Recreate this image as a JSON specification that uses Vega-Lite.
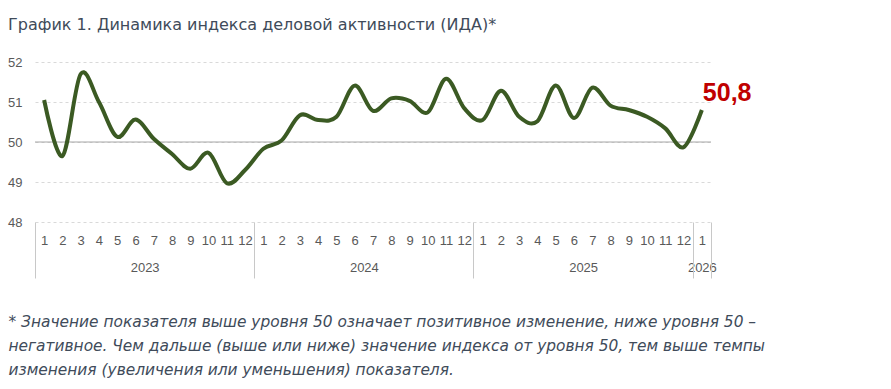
{
  "$schema": "https://vega.github.io/schema/vega-lite/v6.json",
  "width": 676,
  "height": 160,
  "autosize": {"type": "none"},
  "padding": {"left": 35, "top": 62, "right": 180, "bottom": 167},
  "background": "white",
  "title": {
    "text": "График 1. Динамика индекса деловой активности (ИДА)*",
    "anchor": "start",
    "frame": "group",
    "dx": -27,
    "offset": 23,
    "font": "DejaVu Sans",
    "fontSize": 16,
    "fontWeight": "normal",
    "color": "#404b5a"
  },
  "data": {
    "values": [
      {"i": 0, "year": 2023, "month": 1, "v": 51.05},
      {"i": 1, "year": 2023, "month": 2, "v": 49.65},
      {"i": 2, "year": 2023, "month": 3, "v": 51.7},
      {"i": 3, "year": 2023, "month": 4, "v": 51.0},
      {"i": 4, "year": 2023, "month": 5, "v": 50.13},
      {"i": 5, "year": 2023, "month": 6, "v": 50.56},
      {"i": 6, "year": 2023, "month": 7, "v": 50.08},
      {"i": 7, "year": 2023, "month": 8, "v": 49.7},
      {"i": 8, "year": 2023, "month": 9, "v": 49.33},
      {"i": 9, "year": 2023, "month": 10, "v": 49.73},
      {"i": 10, "year": 2023, "month": 11, "v": 48.97},
      {"i": 11, "year": 2023, "month": 12, "v": 49.3},
      {"i": 12, "year": 2024, "month": 1, "v": 49.83},
      {"i": 13, "year": 2024, "month": 2, "v": 50.04},
      {"i": 14, "year": 2024, "month": 3, "v": 50.67},
      {"i": 15, "year": 2024, "month": 4, "v": 50.55},
      {"i": 16, "year": 2024, "month": 5, "v": 50.63},
      {"i": 17, "year": 2024, "month": 6, "v": 51.41},
      {"i": 18, "year": 2024, "month": 7, "v": 50.78},
      {"i": 19, "year": 2024, "month": 8, "v": 51.09},
      {"i": 20, "year": 2024, "month": 9, "v": 51.03},
      {"i": 21, "year": 2024, "month": 10, "v": 50.74},
      {"i": 22, "year": 2024, "month": 11, "v": 51.58},
      {"i": 23, "year": 2024, "month": 12, "v": 50.84},
      {"i": 24, "year": 2025, "month": 1, "v": 50.55},
      {"i": 25, "year": 2025, "month": 2, "v": 51.28},
      {"i": 26, "year": 2025, "month": 3, "v": 50.63},
      {"i": 27, "year": 2025, "month": 4, "v": 50.52},
      {"i": 28, "year": 2025, "month": 5, "v": 51.41},
      {"i": 29, "year": 2025, "month": 6, "v": 50.6},
      {"i": 30, "year": 2025, "month": 7, "v": 51.36},
      {"i": 31, "year": 2025, "month": 8, "v": 50.91},
      {"i": 32, "year": 2025, "month": 9, "v": 50.8},
      {"i": 33, "year": 2025, "month": 10, "v": 50.63},
      {"i": 34, "year": 2025, "month": 11, "v": 50.34},
      {"i": 35, "year": 2025, "month": 12, "v": 49.87},
      {"i": 36, "year": 2026, "month": 1, "v": 50.8}
    ]
  },
  "layer": [
    {
      "data": {"values": [{}]},
      "mark": {"type": "rule", "color": "#a6a6a6", "strokeWidth": 1},
      "encoding": {
        "x": {
          "datum": -0.5,
          "type": "quantitative",
          "scale": {"domain": [-0.5, 36.5], "nice": false, "zero": false},
          "axis": {
            "orient": "bottom",
            "values": [5.5, 17.5, 29.5, 36],
            "labelExpr": "datum.value < 11 ? '2023' : datum.value < 23 ? '2024' : datum.value < 35 ? '2025' : '2026'",
            "ticks": false,
            "tickSize": 0,
            "domain": false,
            "grid": false,
            "labelPadding": 39,
            "labelFont": "Liberation Sans",
            "labelFontSize": 13,
            "labelColor": "#595959",
            "labelFlush": false,
            "labelOverlap": false,
            "labelBound": false,
            "title": [
              "* Значение показателя выше уровня 50 означает позитивное изменение, ниже уровня 50 –",
              "негативное. Чем дальше (выше или ниже) значение индекса от уровня 50, тем выше темпы",
              "изменения (увеличения или уменьшения) показателя."
            ],
            "titleX": -27,
            "titleY": 92,
            "titleAlign": "left",
            "titleBaseline": "top",
            "titleAngle": 0,
            "titleFont": "DejaVu Sans",
            "titleFontStyle": "italic",
            "titleFontWeight": "normal",
            "titleFontSize": 15.4,
            "titleLineHeight": 24,
            "titleColor": "#404b5a"
          }
        },
        "x2": {"datum": 36.5},
        "y": {
          "datum": 50,
          "type": "quantitative",
          "scale": {"domain": [48, 52], "nice": false, "zero": false},
          "axis": {"title": null, "values": [48, 49, 50, 51, 52]}
        }
      }
    },
    {
      "mark": {"type": "line", "interpolate": "cardinal", "color": "#3b5a23", "strokeWidth": 4},
      "encoding": {
        "x": {
          "field": "i",
          "type": "quantitative",
          "scale": {"domain": [-0.5, 36.5], "nice": false, "zero": false},
          "axis": {
            "orient": "bottom",
            "values": [0,1,2,3,4,5,6,7,8,9,10,11,12,13,14,15,16,17,18,19,20,21,22,23,24,25,26,27,28,29,30,31,32,33,34,35,36],
            "labelExpr": "(datum.value % 12) + 1",
            "ticks": false,
            "tickSize": 0,
            "domain": false,
            "grid": false,
            "labelPadding": 12,
            "labelFont": "Liberation Sans",
            "labelFontSize": 13,
            "labelColor": "#595959",
            "labelFlush": false,
            "labelOverlap": false,
            "labelBound": false,
            "title": null
          }
        },
        "y": {"field": "v", "type": "quantitative", "axis": {"title": null, "values": [48, 49, 50, 51, 52]}}
      }
    },
    {
      "transform": [{"filter": "datum.i == 36"}],
      "mark": {"type": "text", "align": "left", "baseline": "alphabetic", "dx": 1, "dy": -9, "font": "Liberation Sans", "fontWeight": "bold", "fontSize": 25, "color": "#c00000"},
      "encoding": {
        "x": {
          "field": "i",
          "type": "quantitative",
          "scale": {"domain": [-0.5, 36.5], "nice": false, "zero": false},
          "axis": {
            "orient": "bottom",
            "values": [-0.5, 11.5, 23.5, 35.5, 36.5],
            "labels": false,
            "ticks": true,
            "tickSize": 56,
            "tickColor": "#c8c8c8",
            "tickWidth": 1,
            "domain": false,
            "grid": false,
            "title": null
          }
        },
        "y": {"field": "v", "type": "quantitative", "axis": {"title": null, "values": [48, 49, 50, 51, 52]}},
        "text": {"field": "v", "type": "quantitative", "format": ".1f"}
      }
    }
  ],
  "resolve": {"scale": {"x": "independent"}, "axis": {"x": "independent"}},
  "config": {
    "view": {"stroke": null},
    "locale": {"number": {"decimal": ",", "thousands": " ", "grouping": [3], "currency": ["", ""]}},
    "axisY": {
      "grid": true,
      "gridDash": [3, 3],
      "gridColor": "#d9d9d9",
      "gridWidth": 1,
      "domain": false,
      "ticks": false,
      "labelOverlap": false,
      "labelPadding": 13,
      "labelFont": "Liberation Sans",
      "labelFontSize": 13,
      "labelColor": "#595959"
    }
  }
}
